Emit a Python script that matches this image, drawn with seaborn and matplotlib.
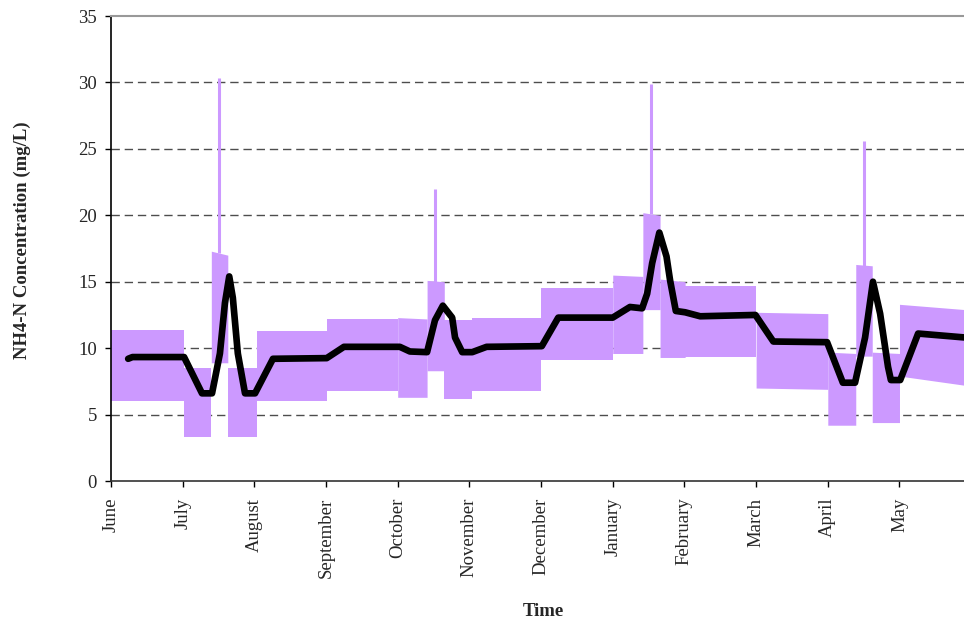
import pandas as pd
import seaborn as sns
import matplotlib.pyplot as plt

# months on the x axis (equally spaced, index 0..11)
months = ["June", "July", "August", "September", "October", "November",
          "December", "January", "February", "March", "April", "May"]

# diurnal band of the hourly series: segment start/end (month index),
# upper value at start/end, lower value at start/end
seg_start = [0.00, 1.02, 1.40, 1.63, 2.04, 3.01, 4.00, 4.41, 4.65, 5.04,
             6.00, 7.00, 7.42, 7.66, 8.01, 9.00, 10.00, 10.39, 10.62, 11.00]
seg_end = [1.02, 1.40, 1.63, 2.04, 3.01, 4.00, 4.41, 4.65, 5.04, 6.00,
           7.00, 7.42, 7.66, 8.01, 9.00, 10.00, 10.39, 10.62, 11.00, 11.92]
hi_start = [11.4, 8.5, 17.3, 8.5, 11.3, 12.2, 12.3, 15.1, 12.1, 12.3,
            14.5, 15.5, 20.2, 15.2, 14.7, 12.7, 9.7, 16.3, 9.7, 13.3]
hi_end = [11.4, 8.5, 17.0, 8.5, 11.3, 12.2, 12.2, 15.0, 12.1, 12.3,
          14.5, 15.4, 20.0, 15.0, 14.7, 12.6, 9.6, 16.2, 9.6, 12.9]
lo_start = [6.0, 3.3, 8.9, 3.3, 6.0, 6.8, 6.3, 8.3, 6.2, 6.8,
            9.1, 9.6, 12.9, 9.3, 9.3, 7.0, 4.2, 9.4, 4.4, 7.9]
lo_end = [6.0, 3.3, 8.9, 3.3, 6.0, 6.8, 6.3, 8.3, 6.2, 6.8,
          9.1, 9.6, 12.9, 9.3, 9.3, 6.9, 4.2, 9.4, 4.4, 7.2]

# short peaks of the hourly series
spike_x = [1.51, 4.52, 7.53, 10.51]
spike_base = [17.2, 15.0, 20.1, 16.2]
spike_top = [30.3, 22.0, 29.9, 25.6]

# smoothed (daily average) line
avg_month = [0.24, 0.30, 1.02, 1.27, 1.41, 1.52, 1.59, 1.65, 1.70, 1.77,
             1.87, 2.01, 2.26, 3.01, 3.25, 4.03, 4.17, 4.41, 4.52, 4.63,
             4.76, 4.80, 4.90, 5.04, 5.24, 6.01, 6.24, 7.00, 7.24, 7.41,
             7.48, 7.55, 7.65, 7.75, 7.80, 7.88, 8.01, 8.22, 8.99, 9.24,
             9.99, 10.21, 10.38, 10.52, 10.58, 10.63, 10.73, 10.84, 10.88,
             11.01, 11.26, 11.92]
avg_nh4 = [9.2, 9.33, 9.33, 6.6, 6.6, 9.6, 13.4, 15.4, 13.8, 9.6,
           6.6, 6.6, 9.2, 9.25, 10.1, 10.1, 9.75, 9.7, 12.1, 13.2,
           12.3, 10.8, 9.7, 9.7, 10.1, 10.15, 12.3, 12.3, 13.1, 13.0,
           14.1, 16.4, 18.7, 16.9, 15.1, 12.8, 12.7, 12.4, 12.5, 10.5,
           10.45, 7.4, 7.4, 10.8, 13.1, 15.0, 12.6, 8.6, 7.6,
           7.6, 11.1, 10.8]

sns.set_style("white")
plt.rcParams["font.family"] = ["Liberation Serif", "DejaVu Serif"]

purple = "#CC99FF"

fig = plt.figure(figsize=(9.64, 6.26), dpi=100)
ax = fig.add_axes([0.1151, 0.2316, 0.8849, 0.7428])

# hourly band
for s, e, h0, h1, l0, l1 in zip(seg_start, seg_end, hi_start, hi_end, lo_start, lo_end):
    ax.fill_between([s, e], [h0, h1], [l0, l1], color=purple, lw=0, zorder=2)
ax.vlines(spike_x, spike_base, spike_top, color=purple, lw=2.2, zorder=2)

# daily average
avg = pd.DataFrame({"month": avg_month, "nh4": avg_nh4})
sns.lineplot(data=avg, x="month", y="nh4", color="black", lw=4.8, ax=ax,
             estimator=None, sort=False, zorder=3,
             solid_capstyle="round", solid_joinstyle="round")

# gridlines
for y in range(5, 35, 5):
    ax.axhline(y, color="#4d4d4d", lw=1, dashes=(6, 3.5), zorder=1)

ax.set_xlim(0, 11.90)
ax.set_ylim(0, 35)
ax.set_yticks(range(0, 36, 5))
ax.set_xticks(range(12))
ax.set_xticklabels(months, rotation=90)
ax.tick_params(axis="both", labelsize=13.5, direction="out", length=4,
               width=1, color="black", left=True, bottom=True)
ax.tick_params(axis="y", pad=6)
ax.tick_params(axis="x", pad=8)

ax.spines["right"].set_visible(False)
ax.spines["top"].set_color("#999999")
ax.spines["top"].set_linewidth(1.5)
ax.spines["left"].set_color("black")
ax.spines["left"].set_linewidth(1.2)
ax.spines["bottom"].set_color("#333333")
ax.spines["bottom"].set_linewidth(1.2)

ax.set_xlabel("")
ax.set_ylabel("")
fig.text(543 / 964, 1 - 612 / 626, "Time", fontsize=13.5, fontweight="bold",
         ha="center", va="center")
fig.text(22 / 964, 1 - 240 / 626, "NH4-N Concentration (mg/L)", fontsize=13.5,
         fontweight="bold", rotation=90, ha="center", va="center")

fig.savefig("out.png", dpi=100)
